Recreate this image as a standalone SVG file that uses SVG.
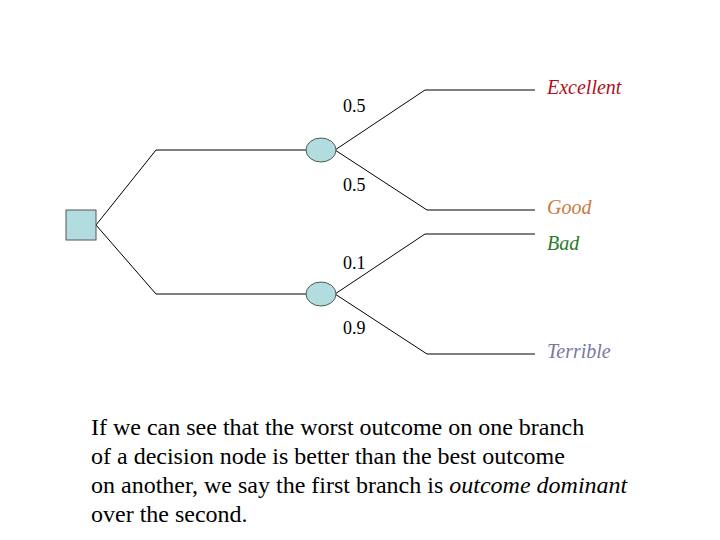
<svg xmlns="http://www.w3.org/2000/svg" width="720" height="540" viewBox="0 0 720 540">
<style>
.ln{stroke:#000;stroke-width:1;fill:none}
.nd{fill:#b2dde0;stroke:#555;stroke-width:1}
text{font-family:'Liberation Serif','Times New Roman','DejaVu Serif',serif}
.p{font-size:18px;fill:#000}
.o{font-size:20px;font-style:italic}
.b{font-size:24px;fill:#000}
</style>
<rect width="720" height="540" fill="#fff"/>
<g id="connectors">
<polyline class="ln" points="96,225 156,150 307,150"/>
<polyline class="ln" points="96,225 156,294 307,294"/>
<polyline class="ln" points="335,150 425,90 535,90"/>
<polyline class="ln" points="335,150 427,210 535,210"/>
<polyline class="ln" points="335,294 425,234 535,234"/>
<polyline class="ln" points="335,294 427,354 535,354"/>
</g>
<g id="decision"><rect class="nd" x="66" y="210" width="30" height="30"/></g>
<g id="chance1"><ellipse class="nd" cx="321" cy="150" rx="15" ry="12"/></g>
<g id="chance2"><ellipse class="nd" cx="321" cy="294" rx="15" ry="12"/></g>
<g id="labels">
<text class="p" x="343" y="112">0.5</text>
<text class="p" x="343" y="191">0.5</text>
<text class="p" x="343" y="269">0.1</text>
<text class="p" x="343" y="334">0.9</text>
</g>
<g id="outcomes">
<text class="o" x="547" y="94" fill="#b01020">Excellent</text>
<text class="o" x="547" y="214" fill="#c87a3c">Good</text>
<text class="o" x="547" y="250" fill="#2a7a2a">Bad</text>
<text class="o" x="547" y="358" fill="#7878a0">Terrible</text>
</g>
<g id="caption">
<text class="b" x="91" y="435">If we can see that the worst outcome on one branch</text>
<text class="b" x="91" y="464">of a decision node is better than the best outcome</text>
<text class="b" x="91" y="493">on another, we say the first branch is <tspan font-style="italic">outcome dominant</tspan></text>
<text class="b" x="91" y="522">over the second.</text>
</g>
</svg>
